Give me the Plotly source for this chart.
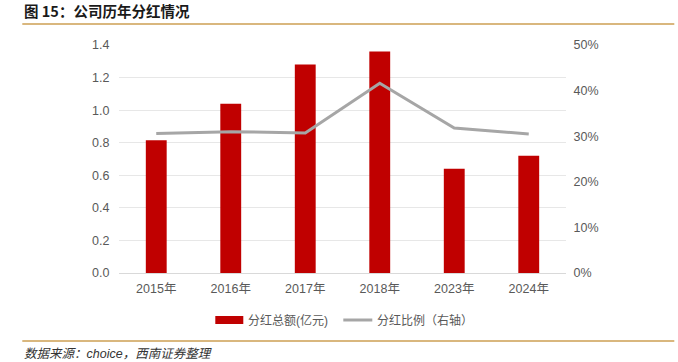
import plotly.graph_objects as go

categories = ["2015年", "2016年", "2017年", "2018年", "2023年", "2024年"]
dividend_total = [0.815, 1.04, 1.28, 1.36, 0.64, 0.72]
payout_ratio = [0.306, 0.310, 0.307, 0.416, 0.318, 0.305]

bar_name = "分红总额(亿元)"
line_name = "分红比例（右轴）"
title_text = "图 15：公司历年分红情况"
source_text = "数据来源：choice，西南证券整理"

W, H = 678, 362
L, R, T, B = 118.7, 565.7, 45, 273

FONT = "Liberation Sans, Arial, Noto Sans CJK SC, sans-serif"
CJK = "Noto Sans CJK SC, sans-serif"
GREY = "#595959"
RED = "#C00000"
LINE = "#A6A6A6"
TAN = "#D9B77E"


def dx(x):
    return (x - L) / (R - L)


def dy(y):
    return (B - y) / (B - T)


fig = go.Figure()
fig.add_trace(go.Bar(x=categories, y=dividend_total, name=bar_name,
                     marker=dict(color=RED, line=dict(width=0)), yaxis="y",
                     showlegend=False))
fig.add_trace(go.Scatter(x=categories, y=payout_ratio, name=line_name, mode="lines",
                         line=dict(color=LINE, width=3), yaxis="y2", showlegend=False))

shapes = [
    dict(type="line", xref="paper", yref="paper", x0=dx(22), x1=dx(674),
         y0=dy(24), y1=dy(24), line=dict(color=TAN, width=2)),
    dict(type="line", xref="paper", yref="paper", x0=dx(22), x1=dx(674),
         y0=dy(341), y1=dy(341), line=dict(color=TAN, width=2)),
    dict(type="rect", xref="paper", yref="paper", x0=dx(215), x1=dx(243),
         y0=dy(324), y1=dy(316), fillcolor=RED, line=dict(width=0)),
    dict(type="line", xref="paper", yref="paper", x0=dx(343), x1=dx(372),
         y0=dy(320), y1=dy(320), line=dict(color=LINE, width=3)),
]

annotations = [
    dict(text="<b>" + title_text + "</b>", x=dx(22), y=dy(11), xref="paper", yref="paper",
         xanchor="left", yanchor="middle", showarrow=False,
         font=dict(family=CJK, size=14.5, color="#1a1a1a")),
    dict(text="<i>" + source_text + "</i>", x=dx(22), y=dy(354), xref="paper", yref="paper",
         xanchor="left", yanchor="middle", showarrow=False,
         font=dict(family=FONT, size=12.5, color="#333333")),
    dict(text=bar_name, x=dx(246), y=dy(320), xref="paper", yref="paper",
         xanchor="left", yanchor="middle", showarrow=False,
         font=dict(family=FONT, size=12, color=GREY)),
    dict(text=line_name, x=dx(375), y=dy(320), xref="paper", yref="paper",
         xanchor="left", yanchor="middle", showarrow=False,
         font=dict(family=FONT, size=12, color=GREY)),
]

fig.update_layout(
    width=W, height=H,
    margin=dict(l=L, r=W - R, t=T, b=H - B, pad=0),
    paper_bgcolor="white", plot_bgcolor="white",
    bargap=0.72,
    shapes=shapes,
    annotations=annotations,
    font=dict(family=FONT, size=12, color=GREY),
    xaxis=dict(type="category", showgrid=False, showline=False, zeroline=False,
               ticks="outside", ticklen=4, tickcolor="rgba(0,0,0,0)",
               tickfont=dict(family=FONT, size=12.5, color=GREY)),
    yaxis=dict(range=[0, 1.4], dtick=0.2, tickformat=".1f", showgrid=True,
               gridcolor="#E7E7E7", gridwidth=1, zeroline=True, zerolinecolor="#D9D9D9",
               zerolinewidth=1, showline=False,
               ticks="outside", ticklen=6, tickcolor="rgba(0,0,0,0)",
               tickfont=dict(family=FONT, size=12.5, color=GREY)),
    yaxis2=dict(range=[0, 0.5], dtick=0.1, tickformat=".0%", overlaying="y", side="right",
                showgrid=False, zeroline=False, showline=False,
                ticks="outside", ticklen=4, tickcolor="rgba(0,0,0,0)",
                tickfont=dict(family=FONT, size=12.5, color=GREY)),
)

fig.write_html("out.html", config={"displayModeBar": False},
               post_script="document.body.style.margin='0';document.body.style.padding='0';")
